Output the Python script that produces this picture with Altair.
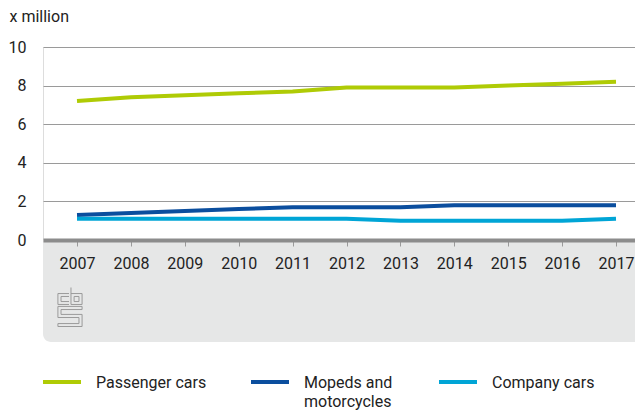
import altair as alt
import pandas as pd

years = list(range(2007, 2018))
passenger_cars = [7.2, 7.4, 7.5, 7.6, 7.7, 7.9, 7.9, 7.9, 8.0, 8.1, 8.2]
mopeds_motorcycles = [1.3, 1.4, 1.5, 1.6, 1.7, 1.7, 1.7, 1.8, 1.8, 1.8, 1.8]
company_cars = [1.1, 1.1, 1.1, 1.1, 1.1, 1.1, 1.0, 1.0, 1.0, 1.0, 1.1]

series_names = ["Passenger cars", "Mopeds and motorcycles", "Company cars"]
legend_labels = ["Passenger cars", "Mopeds and\nmotorcycles", "Company cars"]
series_colors = ["#afcb05", "#0b4e9e", "#00a5d6"]
y_ticks = [0, 2, 4, 6, 8, 10]

rows = []
for name, vals in zip(series_names, [passenger_cars, mopeds_motorcycles, company_cars]):
    for yr, v in zip(years, vals):
        rows.append({"year": yr, "value": v, "series": name})
df = pd.DataFrame(rows)

FONT = "Roboto"
W, H = 592, 193
one = pd.DataFrame({"a": [0]})

band = alt.Chart(one).mark_rect(
    color="#e6e7e7", cornerRadiusBottomLeft=8
).encode(
    x=alt.value(0), x2=alt.value(W), y=alt.value(H), y2=alt.value(295)
)

logo_path = (
    "M-0.05,-0.69L-0.62,-0.69L-0.62,-0.13L-0.05,-0.13"
    "M-0.05,-0.54L-0.46,-0.54L-0.46,-0.28L-0.05,-0.28"
    "M0.05,-1L0.05,-0.13L0.62,-0.13L0.62,-0.69L0.05,-0.69"
    "M0.21,-0.54L0.46,-0.54L0.46,-0.28L0.21,-0.28Z"
    "M0.62,-0.03L-0.62,-0.03L-0.62,0.54L0.46,0.54L0.46,0.85L-0.62,0.85L-0.62,1L0.62,1"
    "L0.62,0.38L-0.46,0.38L-0.46,0.13L0.62,0.13Z"
)
logo = alt.Chart(one).mark_point(
    shape=logo_path, size=1521, filled=False, stroke="#9a9a9a", strokeWidth=1, opacity=1
).encode(x=alt.value(27), y=alt.value(260))

lines = alt.Chart(df).mark_line(strokeWidth=4, strokeCap="butt").encode(
    x=alt.X(
        "year:Q",
        scale=alt.Scale(domain=[2006.369, 2017.3525], nice=False, zero=False),
        axis=alt.Axis(
            values=years, format="d", title=None, grid=False,
            domainColor="#8c8c8c", domainWidth=4,
            tickColor="#9a9a9a", tickSize=6, tickWidth=1,
            labelPadding=9, labelBaseline="top", labelFontSize=16,
            labelColor="#222222", labelFont=FONT, zindex=1,
        ),
    ),
    y=alt.Y(
        "value:Q",
        scale=alt.Scale(domain=[0, 10], nice=False),
        axis=alt.Axis(
            values=y_ticks, title="x million", titleAngle=0, titleAlign="left",
            titleBaseline="alphabetic", titleX=-34, titleY=-26,
            titleFontSize=16, titleFontWeight="normal", titleColor="#222222", titleFont=FONT,
            domain=False, ticks=False, grid=True, gridColor="#9a9a9a", gridWidth=1,
            labelPadding=17, labelFontSize=16, labelColor="#222222", labelFont=FONT,
        ),
    ),
    color=alt.Color(
        "series:N",
        scale=alt.Scale(domain=series_names, range=series_colors),
        legend=None,
    ),
)

# legend (guide) drawn as decoration below the plot
LEG_Y = 335
sym_x = [0, 208, 396]
layers = [band, logo, lines]
for label, color, sx in zip(legend_labels, series_colors, sym_x):
    layers.append(
        alt.Chart(one).mark_rule(stroke=color, strokeWidth=4, strokeCap="butt").encode(
            x=alt.value(sx), x2=alt.value(sx + 38), y=alt.value(LEG_Y)
        )
    )
    layers.append(
        alt.Chart(one).mark_text(
            text=label, lineBreak="\n", lineHeight=19, align="left", baseline="alphabetic",
            font=FONT, fontSize=16, color="#222222",
        ).encode(x=alt.value(sx + 53), y=alt.value(LEG_Y + 6))
    )

chart = alt.layer(*layers).properties(
    width=W, height=H,
    autosize=alt.AutoSizeParams(type="none"),
    padding={"left": 35, "top": 39, "right": 0, "bottom": 170},
).configure_view(stroke=None).configure(background="white")

chart.save("out.html", embed_options={"renderer": "svg", "actions": False})
